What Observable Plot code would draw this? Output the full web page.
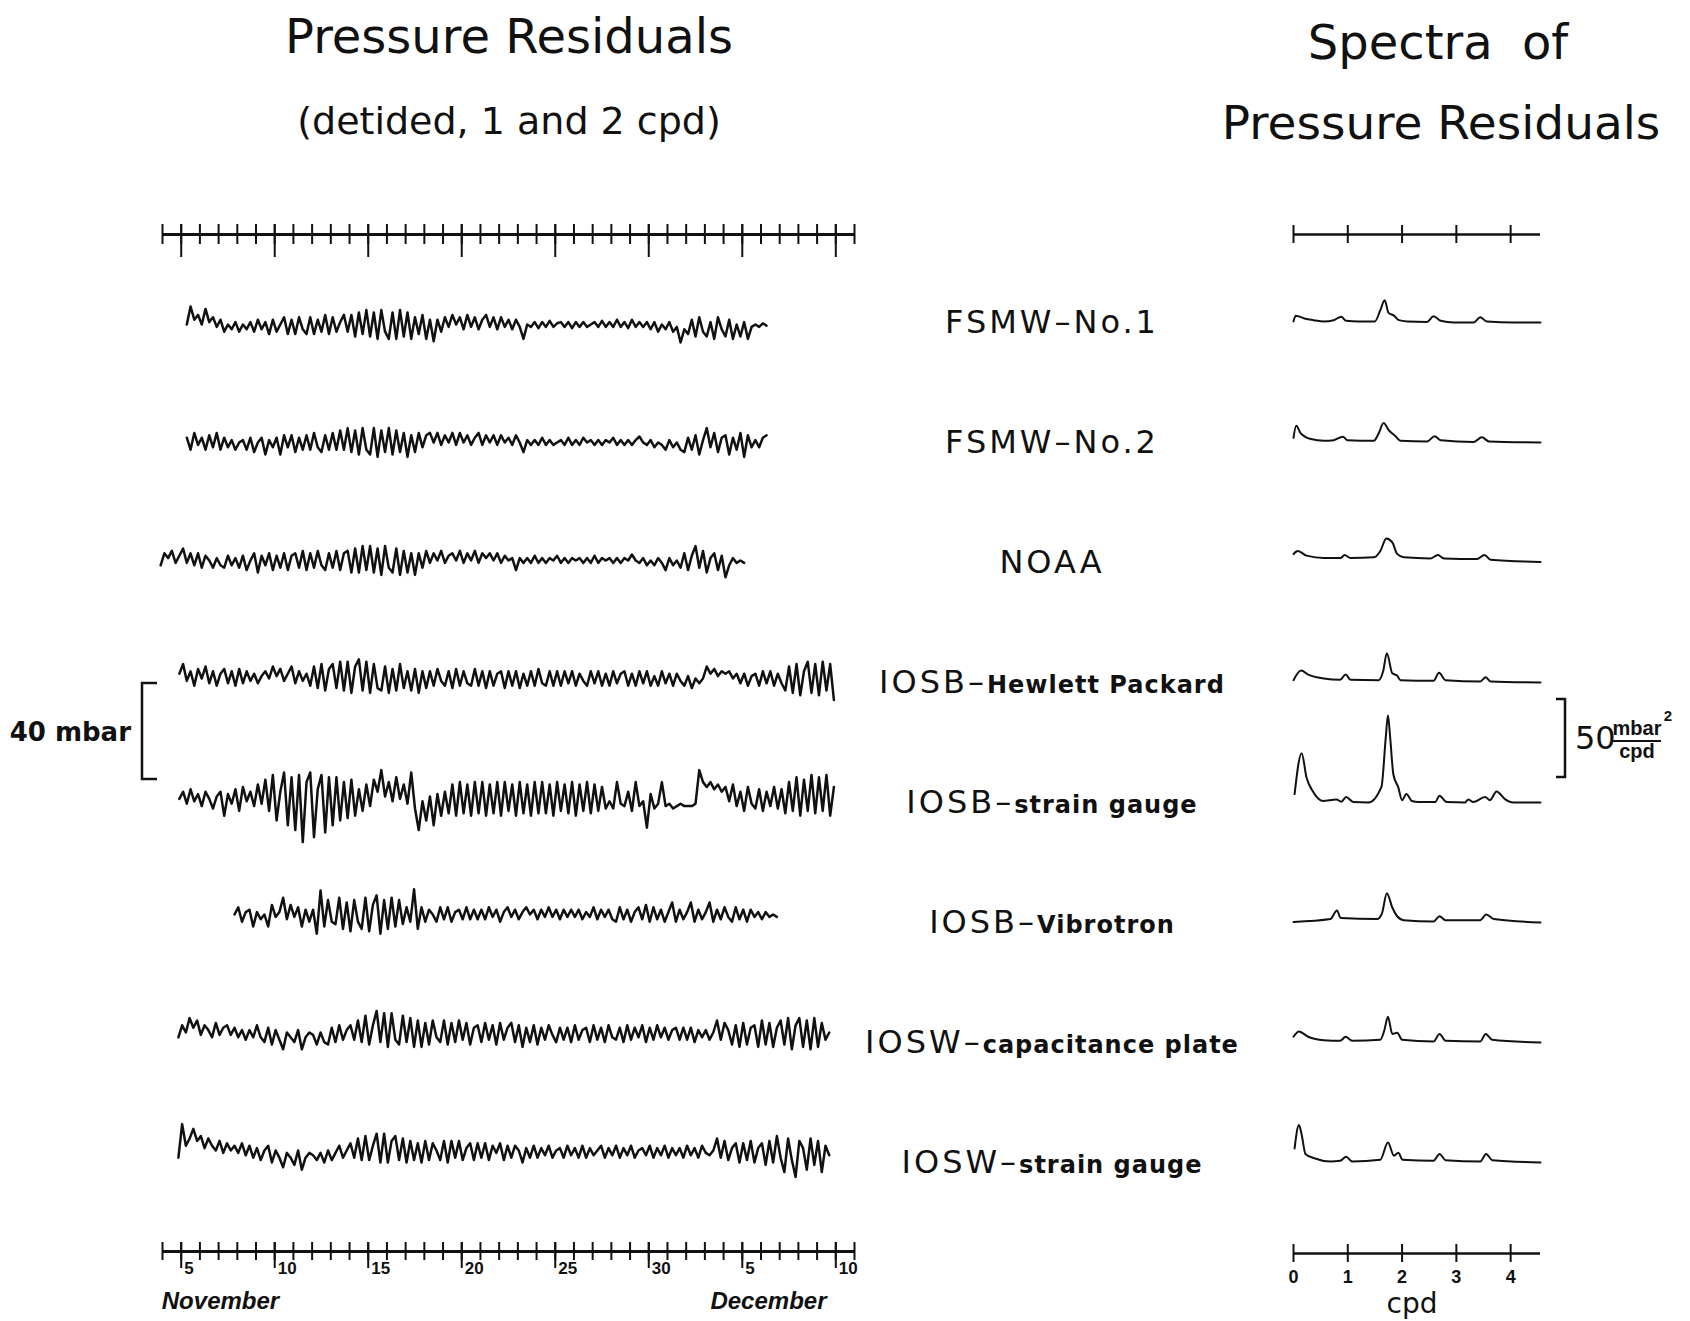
<!DOCTYPE html>
<html><head><meta charset="utf-8">
<script src="https://cdn.jsdelivr.net/npm/d3@7"></script>
<script src="https://cdn.jsdelivr.net/npm/@observablehq/plot@0.6"></script>
<style>
html,body{margin:0;padding:0;background:#fff}
#page{position:relative;width:1690px;height:1321px;overflow:hidden;background:#fff}
.slot{position:absolute}
.slot svg{display:block;overflow:visible}
</style></head><body><div id="page"></div>
<script>
// ---------------- data ----------------
const traceNames = ["FSMW-No.1","FSMW-No.2","NOAA","IOSB-Hewlett Packard","IOSB-strain gauge","IOSB-Vibrotron","IOSW-capacitance plate","IOSW-strain gauge"];
const labelPrefix = ["FSMW","FSMW","NOAA","IOSB","IOSB","IOSB","IOSW","IOSW"];
const labelSuffix = ["No.1","No.2","","Hewlett Packard","strain gauge","Vibrotron","capacitance plate","strain gauge"];

// record start (day of Nov; Dec d = 30 + d) and sampling step (days)
const traceStart = [5.3, 5.3, 3.9, 4.9, 4.9, 7.85, 4.85, 4.85];
const traceStep  = [0.2, 0.2, 0.2, 0.2, 0.2, 0.2, 0.2, 0.2];

// pressure residuals, mbar
const fsmw1 = [0,7.5,2,4,0,6.5,1,3,-1,2,-3,0,-2,1,-3,0,-2,1,-3,
  2,-2,1,-4,2,-3,0,3,-4,2,-4,3,-2,-4,3,-4,2,-3,4,-4,3,-3,1,4,-3,4,
  -5,5,-4,6,-5,5,-6,6,-3,-6,5,-6,6,-5,5,-6,3,-4,4,-6,2,-7,
  2,-3,3,-1,4,0,3,-2,4,-1,3,-2,2,4,-1,3,-2,3,-1,2,-2,2,-1,
  -6,
  0,-1,1,-1.5,1,-1,1.5,-1,0.5,1,-1,1,-1.5,1,-1,1,-1,0,1,-1,1.5,-1,1,-1,2,-1,1,-1.5,2,-1,1,
  -1,1,-2,1,-3,0,-2,1,-3,-1,-7.5,
  -2,-4,2,-5,3,-3,-5,1,-6,3,-2,-5,2,-6,0,-5,1,-6,-1,0,-1,0.5,-0.5];
const fsmw2 = [2,-3,4,-1,2,-3,3,-2,4,-3,2,-2,1,-3,0,
  1,-3,2,-4,0,2,-5,1,-2,2,-5,3,-2,3,-4,2,-3,3,-3,4,-2,-4,3,-3,4,-3,5,-3,
  6,-4,5,-5,6,-3,-5,6,-6,5,-4,6,-5,5,-4,4,-6,
  3,-4,4,-2,3,4,0,4,-1,3,0,4,-1,4,0,3,-1,2,4,-1,3,0,3,-1,3,0,2,-1,3,0,
  -4,
  1,-1,1,-1,2,-1,1,-1,0,1,-1,2,-1,1,-1,2,0,1,-1,1,-1,1,0,2,-1,1,-1,1,-1,1,
  2.5,
  0,-1,1,-2,0,-1,-3,1,-2,0,-3,-4,
  2,-3,3,-5,1,6,-2,4,-4,2,3,-5,2,-3,4,-6,3,-2,1,-2,2,3];
const noaa = [-2,3,1,4,-1,2,5,-1,3,-2,3,-3,2,0,-3,1,-2,
  -3,2,-2,1,-3,2,-4,0,3,-5,2,-2,3,-4,2,-3,3,-4,2,3,-3,4,-4,3,-3,4,-2,-4,3,-3,4,-4,3,4,
  -5,5,-5,6,-4,6,-5,5,-6,6,-3,-5,5,-6,4,-5,3,-6,3,
  -3,4,-1,3,0,4,-1,2,3,0,4,-1,3,0,4,-1,3,1,3,0,3,-1,2,0,1,
  -4,
  1,-1,1,-1,2,-1,1,-1,1,0,2,-1,1,-1,1,0,1,-1,1,-1,2,-1,1,0,1,-1,1,-1,1,0,
  2.5,
  0,-1,1,-2,0,-2,1,-1,-4,1,-2,0,-3,
  3,-4,2,6,-3,4,-5,1,3,-4,2,-7,-2,1,-1,0,-1];
const iosbHP = [2,6,-1,3,-3,4,0,5,-2,3,-3,2,4,-2,3,-3,4,-2,3,-1,2,-2,1,
  3,0,5,1,4,-1,2,5,-2,3,-1,2,-3,
  5,-4,6,-5,4,6,-4,7,-5,7,-6,5,8,-5,7,-6,6,-4,-5,5,-6,4,-5,6,-4,3,-5,4,-6,3,
  -4,3,-3,4,-1,-3,3,-4,4,-3,3,-2,-3,4,-3,3,-4,3,-3,2,3,-4,3,-3,3,-4,2,-3,3,-3,4,-2,-3,3,-3,
  3,-3,3,-2,3,-3,2,-1,-3,3,-2,3,-3,2,-3,3,-2,2,3,-3,2,-3,3,-2,3,-3,1,-3,3,-2,2,-3,2,-1,-3,1,-4,0,-2,
  0,5,2,4,1,3,2,3,0,2,
  -2,2,-3,1,2,-3,3,-2,3,-3,2,-2,
  -5,5,-6,6,-7,3,7,-6,6,-7,7,-5,6,-9];
const iosbSG = [-1,2,-3,3,-2,1,-4,2,-1,-5,0,2,-8,1,-3,3,-6,4,-2,2,-4,5,
  -3,7,-6,9,-10,2,10,-12,8,-14,
  9,-19,6,10,-17,3,9,-15,8,-12,
  8,-10,6,-9,7,-8,3,-6,5,-4,7,
  2,11,0,6,-2,8,-1,5,-3,10,
  -5,-14,-2,-10,0,-12,1,-8,2,
  -7,5,-8,6,-7,5,-8,6,-7,6,-8,5,-7,6,-8,6,-6,5,-8,6,-7,5,-8,6,-7,6,-7,5,-8,6,-6,5,-7,6,-8,5,-6,6,-7,5,-6,4,-5,
  -2,-5,6,-3,-4,2,-6,6,-4,-2,-13,1,-5,-3,6,-4,-3,-5,-4,-3,-4,-4,
  -4,-3,11,6,4,6,3,5,2,4,-2,5,-4,
  2,-6,4,-3,-5,3,-6,2,-4,4,-5,3,
  -7,6,-6,8,-8,7,-6,9,-7,8,-6,9,-8,4];
const iosbVib = [0,3,-3,1,2,-5,1,-2,0,-5,4,-1,1,7,-2,4,-1,3,-5,2,-3,2,
  -8,
  10,-5,6,-3,-4,7,-6,5,-7,6,-3,-6,7,-7,4,8,-8,6,-6,7,-5,6,-4,3,-3,
  10.5,
  -6,3,-3,2,0,-3,3,-2,3,-3,1,2,-2,3,-2,2,-2,
  2,-2,3,-1,2,-3,1,3,-1,2,-2,1,3,0,2,-2,2,-1,3,-1,2,-2,2,-1,2,-1,2,-2,1,-1,3,-2,2,-1,2,-2,
  -3,3,-2,2,-3,1,3,-2,4,-3,3,-2,2,-3,1,5,-3,2,-2,1,5,-3,2,-2,1,5,-3,2,-2,3,-1,-3,3,-2,2,-3,2,-1,1,-2,1,-1,0,-1];
const ioswCap = [-2,3,0,6,2,5,-1,3,1,-2,4,-1,2,3,-1,2,-2,1,
  -3,1,-2,3,-2,-4,2,-5,1,-3,-7,0,-2,-4,1,-7,-2,0,
  -1,-5,0,-4,-5,2,-4,3,-3,1,3,-3,
  5,-4,7,-5,3,9,-4,8,-6,8,-3,-5,7,-4,6,-6,5,
  -6,4,-5,5,-2,-4,5,-5,4,-4,5,-3,4,-5,2,3,-4,4,-3,3,-5,4,-3,2,4,-4,3,-6,
  2,-4,3,-5,2,-3,3,-1,-4,2,-3,2,-4,3,-3,1,2,-4,3,-3,2,-4,3,-2,-3,2,-4,3,-3,2,-2,3,-4,2,-3,3,-2,2,-3,1,2,-3,2,
  -3,2,-4,1,-2,1,-3,0,
  5,-3,4,1,-5,3,-6,4,-5,2,3,-6,5,-5,4,-6,2,5,-5,6,-7,3,6,-6,5,-7,6,-6,4,-3,0];
const ioswSG = [-3,11,2,5,9,4,6,1,5,2,0,4,-1,3,0,2,-1,3,
  -2,2,-3,1,-4,0,2,-5,0,-3,-7,-1,-3,-6,0,-8,-3,-1,
  -2,-4,-1,-5,0,-4,-1,2,-3,0,3,-3,
  5,-4,6,-4,2,7,-5,7,-5,4,6,-4,5,-5,4,-4,3,
  -5,4,-4,3,0,-4,4,-5,4,-3,4,-4,1,3,-4,3,-3,3,-4,2,-1,3,-4,2,-3,2,0,-5,
  1,-3,2,-3,1,-2,2,-3,0,1,-3,2,-2,1,-3,2,-3,1,-2,0,2,-3,1,-2,2,-3,1,-2,2,-3,0,1,-2,2,-3,1,-2,2,-3,1,-2,1,-3,2,-2,
  1,-3,2,-1,-2,0,
  5,-3,4,-4,1,3,-5,3,-4,4,-5,1,3,-6,4,-5,6,-3,-9,5,-4,-11,4,1,-8,5,-6,4,-9,2,-2];
const traceValues = [fsmw1, fsmw2, noaa, iosbHP, iosbSG, iosbVib, ioswCap, ioswSG];

// spectra: [frequency (cpd), power (mbar^2/cpd)]
const specFSMW1 = [[0,0.7],[0.04,4.4],[0.2,2.6],[0.37,1.5],[0.56,0.7],[0.74,1.5],[0.88,3.7],[0.97,1.1],[1.2,0.7],[1.5,0.7],[1.6,8],[1.68,14.3],[1.75,6.2],[1.85,4.4],[1.94,1.5],[2.09,0.7],[2.46,0.4],[2.58,4],[2.71,1.1],[2.95,0],[3.32,0],[3.44,3.3],[3.56,0.7],[4.06,0],[4.55,0]];
const specFSMW2 = [[0,3],[0.05,10.7],[0.13,6],[0.32,2.2],[0.56,1.1],[0.74,1.5],[0.91,3.7],[0.99,1.5],[1.48,1.1],[1.57,5.9],[1.66,12.5],[1.76,7.7],[1.88,4],[1.97,1.1],[2.46,0.7],[2.6,4],[2.71,1.5],[3.32,0.4],[3.47,3.3],[3.6,0.7],[4.55,0]];
const specNOAA = [[0,5.5],[0.08,7.4],[0.24,4.4],[0.56,2.9],[0.87,2.9],[0.94,4.8],[1.05,2.9],[1.48,3.3],[1.6,7.4],[1.71,15.4],[1.82,12.9],[1.91,5.5],[2.03,3.3],[2.52,2.6],[2.66,4.8],[2.77,2.6],[3.38,2.2],[3.52,4.8],[3.63,1.8],[4.55,0.4]];
const specIOSBHP = [[0,1.5],[0.14,7.7],[0.27,5.1],[0.56,2.6],[0.86,1.8],[0.96,5.1],[1.05,1.8],[1.57,1.5],[1.65,7],[1.72,18.8],[1.82,5.9],[1.91,4.4],[1.97,1.5],[2.58,1.1],[2.68,6.2],[2.8,1.5],[3.44,0.7],[3.54,3.3],[3.63,0.7],[4.55,0]];
const specIOSBSG = [[0.02,5.4],[0.15,31.6],[0.24,16],[0.35,7.5],[0.54,1],[0.79,2],[0.88,0.5],[0.97,3.5],[1.1,0.3],[1.38,0],[1.62,10],[1.7,42],[1.74,56],[1.78,42],[1.84,18],[1.93,9.7],[2.0,1.5],[2.08,5.4],[2.18,1],[2.3,0.3],[2.61,0.3],[2.69,4.3],[2.82,0.3],[3.16,0],[3.22,2],[3.31,0.3],[3.53,3.5],[3.62,1.5],[3.74,7.1],[3.9,2],[4.05,0],[4.55,0]];
const specIOSBVib = [[0,0.4],[0.68,2.2],[0.8,7.7],[0.87,2.9],[1.54,2.2],[1.63,5.9],[1.72,18.8],[1.82,9.6],[1.91,4],[2.03,1.5],[2.58,0.7],[2.69,4],[2.8,1.5],[3.44,1.5],[3.55,5.1],[3.69,2.2],[4.55,0]];
const specIOSWCap = [[0,3.7],[0.1,7],[0.27,3.7],[0.56,1.5],[0.86,1.1],[0.96,3.7],[1.08,1.1],[1.6,1.8],[1.67,7.4],[1.74,16.5],[1.82,5.5],[1.91,6.2],[2.0,1.8],[2.58,0.7],[2.69,5.5],[2.8,1.1],[3.44,0.7],[3.54,5.5],[3.66,1.8],[4.55,0]];
const specIOSWSG = [[0.02,9],[0.1,24],[0.15,18],[0.22,5.5],[0.37,2.9],[0.68,0.7],[0.86,1.1],[0.97,3.7],[1.08,0.7],[1.6,1.8],[1.74,12.9],[1.85,4.4],[1.93,6.2],[2.01,1.8],[2.58,1.1],[2.69,5.5],[2.8,1.5],[3.44,0.7],[3.55,5.5],[3.66,1.5],[4.55,0]];
const spectra = [specFSMW1, specFSMW2, specNOAA, specIOSBHP, specIOSBSG, specIOSBVib, specIOSWCap, specIOSWSG];

// axes
const days = [4,5,6,7,8,9,10,11,12,13,14,15,16,17,18,19,20,21,22,23,24,25,26,27,28,29,30,31,32,33,34,35,36,37,38,39,40,41];
const majorDays = [5,10,15,20,25,30,35,40];
const majorDayLabels = ["5","10","15","20","25","30","5","10"];
const monthNames = ["November","December"];
const monthLabelDates = [7.1, 36.4];
const cpdTicks = [0,1,2,3,4];
const cpdTickLabels = ["0","1","2","3","4"];
const pressureScaleBar = 40;   // mbar
const spectrumScaleBar = 50;   // mbar^2/cpd

// ---------------- drawing ----------------
const INK = "#111";
const page = document.getElementById("page");
function place(node, left, top) {
  const d = document.createElement("div");
  d.className = "slot"; d.style.left = left + "px"; d.style.top = top + "px";
  d.appendChild(node); page.appendChild(d); return node;
}

const traceRows = traceNames.flatMap((name, k) => traceValues[k].map((v, i) => ({name, day: traceStart[k] + i * traceStep[k], v})));
const specRows = traceNames.flatMap((name, k) => spectra[k].map(([f, p]) => ({name, f, p})));

const TW = 880, TL = 162, TR = 26;
const tracePlot = Plot.plot({
  width: TW, height: 1229, marginLeft: TL, marginRight: TR, marginTop: 264, marginBottom: 20,
  x: {domain: [4, 41], axis: null},
  y: {domain: [-24.6, 24.6], axis: null},
  fy: {domain: traceNames, axis: null, padding: 0},
  style: {background: "transparent", overflow: "visible"},
  marks: [Plot.line(traceRows, {x: "day", y: "v", fy: "name", stroke: INK, strokeWidth: 2.5, strokeLinejoin: "round"})]
});
place(tracePlot, 0, 0);

const timeTop = Plot.plot({
  width: TW, height: 70, marginLeft: TL, marginRight: TR, marginTop: 20, marginBottom: 30,
  x: {domain: [4, 41], axis: null}, y: {domain: [-1, 1], axis: null},
  style: {background: "transparent", overflow: "visible"},
  marks: [
    Plot.ruleY([0], {stroke: INK, strokeWidth: 3}),
    Plot.tickX(days, {stroke: INK, strokeWidth: 2}),
    Plot.tickX(majorDays, {stroke: INK, strokeWidth: 2, insetBottom: -13})
  ]
});
place(timeTop, 0, 234 - 30);

const majorTicks = majorDays.map((d, i) => ({day: d, label: majorDayLabels[i]}));
const months = monthNames.map((m, i) => ({name: m, day: monthLabelDates[i]}));
const timeBottom = Plot.plot({
  width: TW, height: 100, marginLeft: TL, marginRight: TR, marginTop: 20, marginBottom: 62,
  x: {domain: [4, 41], axis: null}, y: {domain: [-1, 1], axis: null},
  style: {background: "transparent", overflow: "visible"},
  marks: [
    Plot.ruleY([0], {stroke: INK, strokeWidth: 3}),
    Plot.tickX(days, {stroke: INK, strokeWidth: 2}),
    Plot.tickX(majorDays, {stroke: INK, strokeWidth: 2, insetBottom: -8}),
    Plot.text(majorTicks, {x: "day", text: "label", frameAnchor: "bottom", dy: 13, dx: 3, textAnchor: "start",
      fontSize: 17, fontWeight: "bold", fontFamily: "Liberation Sans", fill: INK}),
    Plot.text(months, {x: "day", text: "name", frameAnchor: "bottom", dy: 48, textAnchor: "middle",
      fontSize: 24, fontWeight: "bold", fontStyle: "italic", fontFamily: "Liberation Sans", fill: INK})
  ]
});
place(timeBottom, 0, 1251 - 29);

const SW = 330, SL = 43, SR = 40, SLEFT = 1250;
const specPlot = Plot.plot({
  width: SW, height: 1182, marginLeft: SL, marginRight: SR, marginTop: 201, marginBottom: 20,
  x: {domain: [0, 4.55], axis: null},
  y: {domain: [0, 77], axis: null},
  fy: {domain: traceNames, axis: null, padding: 0},
  style: {background: "transparent", overflow: "visible"},
  marks: [Plot.line(specRows, {x: "f", y: "p", fy: "name", curve: "monotone-x", stroke: INK, strokeWidth: 2, strokeLinejoin: "round"})]
});
place(specPlot, SLEFT, 0);

const specTop = Plot.plot({
  width: SW, height: 68, marginLeft: SL, marginRight: SR, marginTop: 20, marginBottom: 30,
  x: {domain: [0, 4.55], axis: null}, y: {domain: [-1, 1], axis: null},
  style: {background: "transparent", overflow: "visible"},
  marks: [Plot.ruleY([0], {stroke: INK, strokeWidth: 2.6}), Plot.tickX(cpdTicks, {stroke: INK, strokeWidth: 2})]
});
place(specTop, SLEFT, 234 - 29);

const cpdRows = cpdTicks.map((f, i) => ({f, label: cpdTickLabels[i]}));
const specBottom = Plot.plot({
  width: SW, height: 100, marginLeft: SL, marginRight: SR, marginTop: 20, marginBottom: 62,
  x: {domain: [0, 4.55], axis: null}, y: {domain: [-1, 1], axis: null},
  style: {background: "transparent", overflow: "visible"},
  marks: [
    Plot.ruleY([0], {stroke: INK, strokeWidth: 2.6}),
    Plot.tickX(cpdTicks, {stroke: INK, strokeWidth: 2}),
    Plot.text(cpdRows, {x: "f", text: "label", frameAnchor: "bottom", dy: 20, fontSize: 18, fontWeight: "bold", fontFamily: "Liberation Sans", fill: INK}),
    Plot.text(["cpd"], {frameAnchor: "bottom", dy: 50, dx: -5, fontSize: 28, fontFamily: "DejaVu Sans", fill: INK})
  ]
});
place(specBottom, SLEFT, 1253 - 29);

// ---------------- overlay: titles, labels, scale bars ----------------
const svg = d3.select(page).append("svg")
  .attr("width", 1690).attr("height", 1321)
  .style("position", "absolute").style("left", "0px").style("top", "0px")
  .attr("font-family", "DejaVu Sans, sans-serif").attr("fill", INK);

function title(txt, x, y, size, extra) {
  const t = svg.append("text").attr("x", x).attr("y", y).attr("text-anchor", "middle").attr("font-size", size).text(txt);
  if (extra) extra(t);
}
title("Pressure Residuals", 509, 53, 48);
title("(detided, 1 and 2 cpd)", 509, 134, 38);
title("Spectra of", 1438, 59, 48, t => t.attr("word-spacing", 14));
title("Pressure Residuals", 1441, 139, 47);

const fyS = specPlot.scale("fy");
traceNames.forEach((name, k) => {
  const base = fyS.apply(name) + fyS.bandwidth + 11;
  const t = svg.append("text").attr("x", 1052).attr("y", base).attr("text-anchor", "middle");
  const suf = labelSuffix[k];
  t.append("tspan").attr("font-size", 32).attr("letter-spacing", 3).text(labelPrefix[k] + (suf ? "–" : ""));
  if (suf) {
    const big = /^No\./.test(suf);
    t.append("tspan").attr("font-size", big ? 32 : 24).attr("font-weight", big ? "normal" : "bold")
      .attr("letter-spacing", big ? 3 : 1).text(suf);
  }
});

// 40 mbar scale bar, sized by the pressure scale
const fyT = tracePlot.scale("fy"), yT = tracePlot.scale("y");
const barLen = Math.abs(yT.apply(pressureScaleBar) - yT.apply(0));
const midT = (fyT.apply(traceNames[3]) + fyT.apply(traceNames[4])) / 2 + fyT.bandwidth / 2 - 6;
svg.append("path").attr("d", `M157,${midT - barLen / 2}H142V${midT + barLen / 2}H157`)
  .attr("fill", "none").attr("stroke", INK).attr("stroke-width", 2.5);
svg.append("text").attr("x", 131).attr("y", midT + 9.5).attr("text-anchor", "end")
  .attr("font-size", 26).attr("font-weight", "bold").text(pressureScaleBar + " mbar");

// 50 mbar^2/cpd scale bar, sized by the spectral scale
const yS = specPlot.scale("y");
const sLen = Math.abs(yS.apply(spectrumScaleBar) - yS.apply(0));
const sBottom = fyS.apply(traceNames[4]) + fyS.bandwidth - 25;
svg.append("path").attr("d", `M1556,${sBottom - sLen}H1565V${sBottom}H1556`)
  .attr("fill", "none").attr("stroke", INK).attr("stroke-width", 2.5);
const sMid = sBottom - sLen / 2;
svg.append("text").attr("x", 1575).attr("y", sMid + 11).attr("font-size", 32).text(String(spectrumScaleBar));
const frac = svg.append("g").attr("font-family", "Liberation Sans, sans-serif").attr("font-weight", "bold").attr("text-anchor", "middle");
frac.append("text").attr("x", 1637).attr("y", sMid - 3).attr("font-size", 20).text("mbar");
frac.append("text").attr("x", 1668).attr("y", sMid - 17).attr("font-size", 15).text("2");
frac.append("line").attr("x1", 1613).attr("x2", 1661).attr("y1", sMid + 3).attr("y2", sMid + 3).attr("stroke", INK).attr("stroke-width", 2);
frac.append("text").attr("x", 1637).attr("y", sMid + 20).attr("font-size", 20).text("cpd");
</script></body></html>
